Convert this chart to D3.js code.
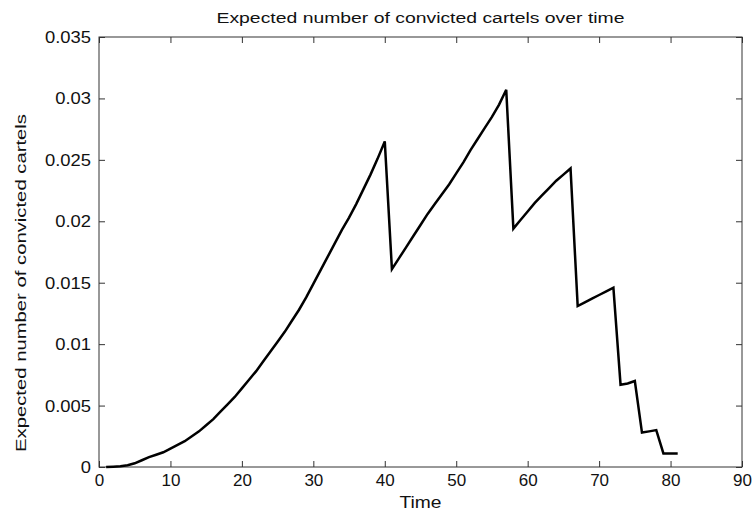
<!DOCTYPE html>
<html>
<head>
<meta charset="utf-8">
<script src="https://cdn.jsdelivr.net/npm/d3@7"></script>
<style>
  body { margin: 0; background: #fff; }
  svg { display: block; font-family: Arial, "Liberation Sans", sans-serif; }
</style>
</head>
<body>
<svg id="chart" width="755" height="516"></svg>
<script>
// ---- data ----
const times = [
  1,2,3,4,5,6,7,8,9,10,11,12,13,14,15,16,17,18,19,20,
  21,22,23,24,25,26,27,28,29,30,31,32,33,34,35,36,37,38,39,40,
  41,42,43,44,45,46,47,48,49,50,51,52,53,54,55,56,57,
  58,59,60,61,62,63,64,65,66,
  67,68,69,70,71,72,
  73,74,75,76,77,78,79,80,81
];
const convicted = [
  0.0000,0.00003,0.00006,0.00015,0.0003,0.00055,0.0008,0.0010,0.0012,0.0015,
  0.0018,0.0021,0.0025,0.0029,0.0034,0.0039,0.0045,0.0051,0.0057,0.0064,
  0.0071,0.0078,0.0086,0.0094,0.0102,0.0110,0.0119,0.0128,0.0138,0.0149,
  0.0160,0.0171,0.0182,0.0193,0.0203,0.0214,0.0226,0.0238,0.0251,0.0265,
  0.0161,0.0170,0.0179,0.0188,0.0197,0.0206,0.0214,0.0222,0.0230,0.0239,
  0.0248,0.0258,0.0267,0.0276,0.0285,0.0295,0.0307,
  0.0194,0.0201,0.0208,0.0215,0.0221,0.0227,0.0233,0.0238,0.0243,
  0.0131,0.0134,0.0137,0.0140,0.0143,0.0146,
  0.0067,0.0068,0.0070,0.0028,0.0029,0.0030,0.0011,0.0011,0.0011
];
const xTicks = [0,10,20,30,40,50,60,70,80,90];
const yTicks = [0,0.005,0.01,0.015,0.02,0.025,0.03,0.035];
const yTickLabels = ["0","0.005","0.01","0.015","0.02","0.025","0.03","0.035"];
const titleText = "Expected number of convicted cartels over time";
const xLabelText = "Time";
const yLabelText = "Expected number of convicted cartels";

// ---- layout ----
const L = 99, R = 742, T = 37, B = 467;
const svg = d3.select("#chart");
const x = d3.scaleLinear().domain([0, 90]).range([L, R]);
const y = d3.scaleLinear().domain([0, 0.035]).range([B, T]);
const axisColor = "#333";
const stretch = 1.15;

// box
svg.append("rect").attr("x", L).attr("y", T).attr("width", R - L).attr("height", B - T)
  .attr("fill", "none").attr("stroke", axisColor).attr("stroke-width", 1);

// bottom axis
const gx = svg.append("g").attr("transform", `translate(0,${B})`)
  .call(d3.axisBottom(x).tickValues(xTicks).tickSize(-6).tickFormat(d3.format("d")));
gx.select(".domain").remove();
gx.selectAll("line").attr("stroke", axisColor);
gx.selectAll("text").attr("y", 7).attr("dy", "0.71em")
  .attr("font-size", 17).attr("fill", "#111").attr("font-family", "Arial, 'Liberation Sans', sans-serif");

// top axis ticks
const gxt = svg.append("g").attr("transform", `translate(0,${T})`)
  .call(d3.axisTop(x).tickValues(xTicks).tickSize(-6).tickFormat(""));
gxt.select(".domain").remove();
gxt.selectAll("line").attr("stroke", axisColor);

// left axis
const gy = svg.append("g").attr("transform", `translate(${L},0)`)
  .call(d3.axisLeft(y).tickValues(yTicks).tickSize(-6).tickFormat((d, i) => yTickLabels[i]));
gy.select(".domain").remove();
gy.selectAll("line").attr("stroke", axisColor);
gy.selectAll("text").attr("x", -8 / stretch).attr("dy", "0.34em")
  .attr("transform", `scale(${stretch},1)`)
  .attr("font-size", 16).attr("fill", "#111").attr("font-family", "Arial, 'Liberation Sans', sans-serif");

// right axis ticks
const gyr = svg.append("g").attr("transform", `translate(${R},0)`)
  .call(d3.axisRight(y).tickValues(yTicks).tickSize(-6).tickFormat(""));
gyr.select(".domain").remove();
gyr.selectAll("line").attr("stroke", axisColor);

// line
const line = d3.line().x((d, i) => x(times[i])).y(d => y(d));
svg.append("path").datum(convicted).attr("d", line)
  .attr("fill", "none").attr("stroke", "#000").attr("stroke-width", 2.5)
  .attr("stroke-linejoin", "miter");

// title
svg.append("text").attr("x", (L + R) / 2).attr("y", 23).attr("text-anchor", "middle")
  .attr("font-size", 14).attr("fill", "#111")
  .attr("textLength", 408).attr("lengthAdjust", "spacingAndGlyphs")
  .text(titleText);

// x label
svg.append("text").attr("x", (L + R) / 2).attr("y", 508).attr("text-anchor", "middle")
  .attr("font-size", 16).attr("fill", "#111")
  .attr("textLength", 42).attr("lengthAdjust", "spacingAndGlyphs")
  .text(xLabelText);

// y label
svg.append("text").attr("transform", `translate(26,283) rotate(-90)`)
  .attr("text-anchor", "middle").attr("font-size", 15).attr("fill", "#111")
  .attr("textLength", 338).attr("lengthAdjust", "spacingAndGlyphs")
  .text(yLabelText);
</script>
</body>
</html>
